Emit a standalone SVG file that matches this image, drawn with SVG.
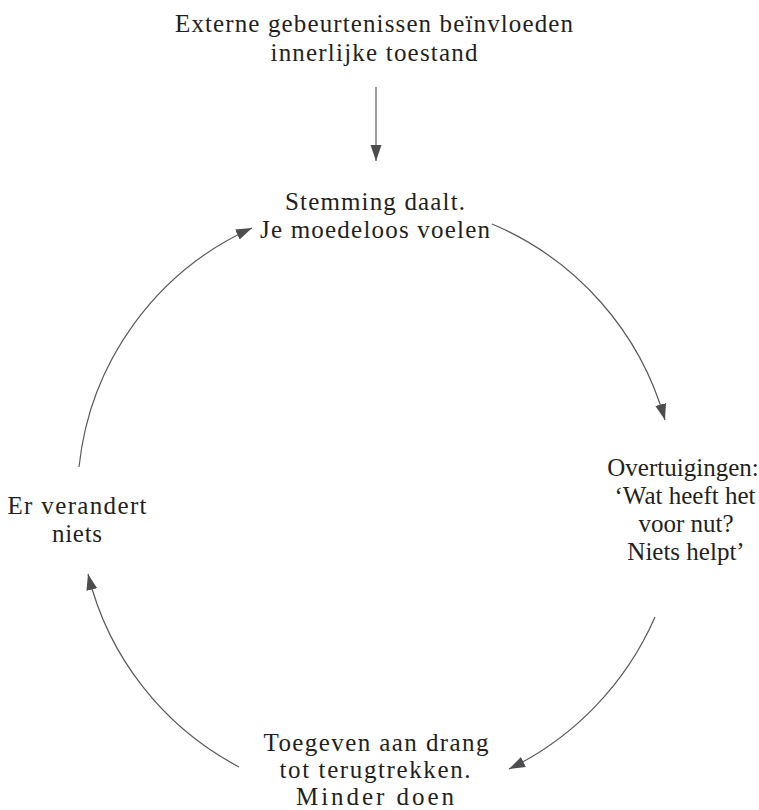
<svg xmlns="http://www.w3.org/2000/svg" width="759" height="810" viewBox="0 0 759 810">
<style>
text{font-family:"Liberation Serif","Times New Roman",serif;font-size:25px;fill:#231f20;text-anchor:middle}
.c{fill:none;stroke:#5a5a5c;stroke-width:1.2}
</style>
<defs>
<marker id="ah" markerUnits="userSpaceOnUse" markerWidth="18" markerHeight="12" refX="16" refY="5.5" orient="auto">
<path d="M0,0 L16,5.5 L0,11 z" fill="#4d4d4f"/>
</marker>
</defs>
<rect width="759" height="810" fill="#fff"/>
<g id="n-extern"><text x="374" y="32" textLength="398" lengthAdjust="spacing">Externe gebeurtenissen beïnvloeden</text><text x="374" y="61" textLength="207" lengthAdjust="spacing">innerlijke toestand</text></g>
<g id="n-stemming"><text x="375" y="210" textLength="180" lengthAdjust="spacing">Stemming daalt.</text><text x="375" y="238" textLength="230" lengthAdjust="spacing">Je moedeloos voelen</text></g>
<g id="n-overtuigingen"><text x="683" y="476">Overtuigingen:</text><text x="685" y="504">‘Wat heeft het</text><text x="686" y="532">voor nut?</text><text x="686" y="560">Niets helpt’</text></g>
<g id="n-toegeven"><text x="376" y="751" textLength="225" lengthAdjust="spacing">Toegeven aan drang</text><text x="375" y="778" textLength="191" lengthAdjust="spacing">tot terugtrekken.</text><text x="375" y="805" textLength="158" lengthAdjust="spacing">Minder doen</text></g>
<g id="n-verandert"><text x="77" y="514" textLength="139" lengthAdjust="spacing">Er verandert</text><text x="77" y="542" textLength="50" lengthAdjust="spacing">niets</text></g>
<g id="connectors">
<path class="c" d="M376,87 L376,161" marker-end="url(#ah)"/>
<path class="c" d="M79,467 A296,296 0 0 1 252,228" marker-end="url(#ah)"/>
<path class="c" d="M492,224 A301,301 0 0 1 665,420" marker-end="url(#ah)"/>
<path class="c" d="M655,617 A304,304 0 0 1 509,769" marker-end="url(#ah)"/>
<path class="c" d="M239,767 A298,298 0 0 1 88,574" marker-end="url(#ah)"/>
</g>
</svg>
